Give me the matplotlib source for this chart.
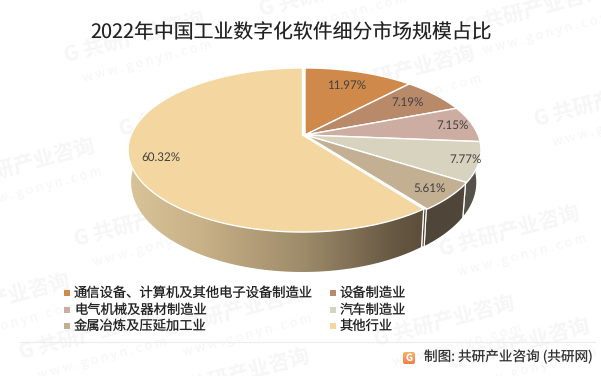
# -*- coding: utf-8 -*-
import numpy as np
import matplotlib
matplotlib.use('Agg')
import matplotlib.pyplot as plt
from matplotlib.colors import LinearSegmentedColormap
from matplotlib.patches import Polygon, FancyBboxPatch

plt.rcParams['font.family'] = ['Noto Sans CJK SC', 'DejaVu Sans']
plt.rcParams['text.hinting'] = 'no_hinting'

title = '2022年中国工业数字化软件细分市场规模占比'
categories = ['通信设备、计算机及其他电子设备制造业', '设备制造业', '电气机械及器材制造业',
              '汽车制造业', '金属冶炼及压延加工业', '其他行业']
values = [11.97, 7.19, 7.15, 7.77, 5.61, 60.32]
labels = ['11.97%', '7.19%', '7.15%', '7.77%', '5.61%', '60.32%']
colors = ['#CF8A4B', '#B98A6A', '#CDADA1', '#D8D3BF', '#C3AF92', '#F4D6A0']
source = '制图: 共研产业咨询 (共研网)'


def project(theta, r=1.0, cx=304.0, cy=135.0, a=173.0, b=79.3, k=0.183):
    # clockwise angle from 12 o'clock -> pixel position on the tilted disc
    u = r*np.sin(theta)
    v = r*np.cos(theta)
    den = 1+k*v
    return cx+a*u/den, cy-b*v/den


def arc(t0, t1, **kw):
    t = np.linspace(t0, t1, 120)
    x, y = project(t, **kw)
    return np.column_stack([x, y])


def bottom_arc(t0, t1, dx=0.0, a=170.0):
    return arc(t0, t1, cx=304.0+dx, cy=166.0, a=a, b=86.6)


fig = plt.figure(figsize=(6.01, 3.76), dpi=100)
ax = fig.add_axes([0, 0, 1, 1])

# watermark stamps
stamps = [(135, 38), (330, -8), (535, 10), (405, 72), (605, 102), (190, 112),
          (25, 165), (145, 222), (345, 190), (510, 232), (0, 300), (235, 312),
          (445, 322), (90, 335), (240, 375), (520, 345)]
for sx, sy in stamps:
    ax.text(sx, sy, 'G 共研产业咨询', color='#f6f6f6', fontsize=15, fontweight='bold',
            rotation=15, ha='center', va='center', zorder=0)
    ax.text(sx+12, sy+24, 'w w w . g o n y n . c o m', color='#f7f7f7', fontsize=9,
            rotation=15, ha='center', va='center', zorder=0)

fractions = np.array(values)/sum(values)
edges = np.concatenate([[0], np.cumsum(fractions)])*2*np.pi
big_dx = -1.5
big_a = 171.5

# side walls
side_cols = ['#6a6558', '#6a6558', '#5c574c', '#55524a', '#4f4539']
for i in range(2, 5):
    t0, t1 = max(edges[i], np.pi/2-0.05), edges[i+1]
    pts = np.vstack([arc(t0, t1), bottom_arc(t0, t1)[::-1]])
    ax.add_patch(Polygon(pts, closed=True, fc=side_cols[i], ec='white', lw=0.9, zorder=2))

# cut face showing in the gap beside the large slice
t_cut = edges[5]
big_top = arc(t_cut, t_cut, cx=304.0+big_dx, a=big_a)[0]
big_bot = bottom_arc(t_cut, t_cut, dx=big_dx, a=big_a-3)[0]
cut = np.vstack([arc(t_cut, t_cut)[0], bottom_arc(t_cut, t_cut)[0], big_bot, big_top])
ax.add_patch(Polygon(cut, closed=True, fc='#5a4c3a', ec='white', lw=0.8, zorder=2))

# large slice wall with its left to right shading
t0, t1 = edges[5], 2*np.pi-np.pi/2+0.1
big_pts = np.vstack([arc(t0, t1, cx=304.0+big_dx, a=big_a),
                     bottom_arc(t0, t1, dx=big_dx, a=big_a-3)[::-1]])
wall_cmap = LinearSegmentedColormap.from_list('wall', [(0, '#d9c399'), (0.25, '#c8b087'),
                                                       (0.6, '#9c8a69'), (0.9, '#675843'),
                                                       (1, '#5d4e3b')])
grad = np.linspace(0, 1, 256).reshape(1, -1)
im = ax.imshow(grad, cmap=wall_cmap, extent=[129, 424, 280, 130], aspect='auto', zorder=3)
wall = Polygon(big_pts, closed=True, fc='none', ec='none', transform=ax.transData)
ax.add_patch(wall)
im.set_clip_path(wall)
ax.plot([big_top[0], big_bot[0]], [big_top[1], big_bot[1]], color='white', lw=0.9, zorder=4)

# top faces
for i, val in enumerate(values):
    if i == 5:
        cx, a = 304.0+big_dx, big_a
    else:
        cx, a = 305.0, 173.0
    pts = np.vstack([[cx, 135.0], arc(edges[i], edges[i+1], cx=cx, a=a)])
    ax.add_patch(Polygon(pts, closed=True, fc=colors[i], ec='white', lw=1.0, zorder=5))

# data labels
label_r = [0.75, 0.78, 0.89, 0.93, 0.88, 0.83]
for i, lab in enumerate(labels):
    mid = (edges[i]+edges[i+1])/2
    lx, ly = project(mid, r=label_r[i])
    ax.text(lx, ly, lab, color='#404040', fontsize=8.4, family='Lato',
            ha='center', va='center', zorder=6)

ax.text(291, 33, title, color='#222222', fontsize=14.3, ha='center', va='center', zorder=6)

# legend, filled column by column as in a two column layout
col_x = [67, 333]
row_y = [293, 310, 326]
for i, name in enumerate(categories):
    lx = col_x[i % 2]
    ly = row_y[i//2]
    ax.scatter([lx], [ly], s=14, marker='s', color=colors[i], linewidths=0, zorder=6)
    ax.text(lx+7, ly, name, color='#222222', fontsize=9.57, ha='left', va='center', zorder=6)

# footer
ax.plot([20, 595], [342, 342], color='#ececec', lw=0.8, zorder=1)
logo_cmap = LinearSegmentedColormap.from_list('logo', ['#f7b267', '#ef7f4d'])
logo = FancyBboxPatch((403, 352), 12, 12, boxstyle='round,pad=0,rounding_size=2', fc='none', ec='none')
ax.add_patch(logo)
logo_im = ax.imshow(np.linspace(0, 1, 32).reshape(-1, 1), cmap=logo_cmap, extent=[403, 415, 364, 352],
                    aspect='auto', zorder=6)
logo_im.set_clip_path(logo)
ax.text(409, 358, 'G', color='white', fontsize=7, fontweight='bold', ha='center', va='center', zorder=7)
ax.text(424, 357, source, color='#333333', fontsize=9.8, ha='left', va='center', zorder=6)

ax.set_xlim(0, 601)
ax.set_ylim(376, 0)
ax.axis('off')

fig.savefig('out.png', dpi=100, facecolor='white')
